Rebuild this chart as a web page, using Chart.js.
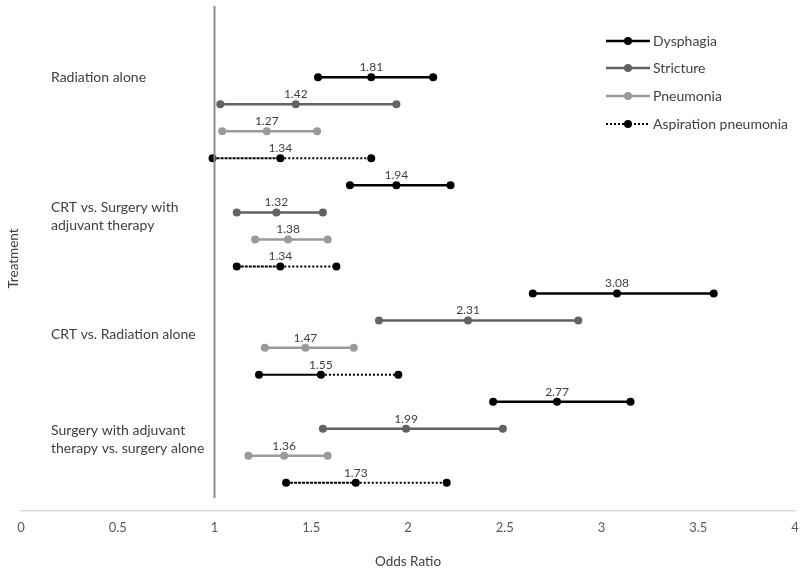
<!DOCTYPE html>
<html><head><meta charset="utf-8">
<script src="https://cdn.jsdelivr.net/npm/chart.js@4/dist/chart.umd.min.js"></script>
<style>html,body{margin:0;padding:0;background:#fff}#wrap{width:800px;height:576px;position:relative}</style>
</head><body><div id="wrap"><canvas id="c"></canvas></div>
<script>
// ---- data ----
const treatments = [
  'Radiation alone',
  ['CRT vs. Surgery with', 'adjuvant therapy'],
  'CRT vs. Radiation alone',
  ['Surgery with adjuvant', 'therapy vs. surgery alone']
];
const treatmentTickPos = [0, 5.15, 9.5, 13.4];
const seriesNames = ['Dysphagia', 'Stricture', 'Pneumonia', 'Aspiration pneumonia'];
const dysphagiaOR  = [1.81, 1.94, 3.08, 2.77];
const dysphagiaLo  = [1.535, 1.70, 2.645, 2.44];
const dysphagiaHi  = [2.13, 2.22, 3.58, 3.15];
const strictureOR  = [1.42, 1.32, 2.31, 1.99];
const strictureLo  = [1.03, 1.115, 1.85, 1.56];
const strictureHi  = [1.94, 1.56, 2.88, 2.49];
const pneumoniaOR  = [1.27, 1.38, 1.47, 1.36];
const pneumoniaLo  = [1.04, 1.21, 1.26, 1.175];
const pneumoniaHi  = [1.53, 1.585, 1.72, 1.585];
const aspirationOR = [1.34, 1.34, 1.55, 1.73];
const aspirationLo = [0.99, 1.115, 1.23, 1.37];
const aspirationHi = [1.81, 1.63, 1.95, 2.20];
const xTicks = [0, 0.5, 1, 1.5, 2, 2.5, 3, 3.5, 4];
const referenceOR = 1;

// ---- build ----
const seriesData = [
  [dysphagiaLo, dysphagiaOR, dysphagiaHi],
  [strictureLo, strictureOR, strictureHi],
  [pneumoniaLo, pneumoniaOR, pneumoniaHi],
  [aspirationLo, aspirationOR, aspirationHi]
];
const colors = ['#000000', '#626262', '#9a9a9a', '#000000'];
const Y_MIN = -2.63, Y_MAX = 16.04, REF_END = 15.56;

const datasets = seriesData.map((s, si) => {
  const data = [];
  for (let g = 0; g < 4; g++) {
    const row = g * 4 + si;
    data.push({x: s[0][g], y: row}, {x: s[1][g], y: row}, {x: s[2][g], y: row}, {x: null, y: row});
  }
  const ds = {
    label: seriesNames[si], data, borderColor: colors[si], backgroundColor: colors[si],
    borderWidth: 2.5, pointRadius: 4, pointHoverRadius: 4, pointBorderWidth: 0,
    showLine: true, spanGaps: false, tension: 0, isSeries: true
  };
  if (si === 3) {
    ds.borderWidth = 2;
    ds.segment = {
      borderDash: ctx => {
        const k = ctx.p0DataIndex % 4;
        if (k === 0) return Math.floor(ctx.p0DataIndex / 4) === 2 ? [] : [3, 1];
        return [2, 2];
      }
    };
  }
  return ds;
});
datasets.unshift({
  label: 'ref', data: [{x: referenceOR, y: Y_MIN}, {x: referenceOR, y: REF_END}],
  borderColor: '#8c8c8c', borderWidth: 2, pointRadius: 0, showLine: true
});

const labelPlugin = {
  id: 'orLabels',
  afterDatasetsDraw(chart) {
    const ctx = chart.ctx;
    ctx.save();
    ctx.font = '12px Lato';
    ctx.fillStyle = '#404040';
    ctx.textAlign = 'center';
    ctx.textBaseline = 'bottom';
    chart.data.datasets.forEach((ds, di) => {
      if (!ds.isSeries) return;
      const meta = chart.getDatasetMeta(di);
      meta.data.forEach((el, i) => {
        if (i % 4 !== 1) return;
        ctx.fillText(ds.data[i].x.toFixed(2), el.x, el.y - 4);
      });
    });
    ctx.restore();
  }
};

const legendPlugin = {
  id: 'customLegend',
  afterDraw(chart) {
    const ctx = chart.ctx;
    ctx.save();
    const x0 = 606, x1 = 650, ys = [41, 68, 96, 124];
    seriesNames.forEach((n, i) => {
      const y = ys[i];
      ctx.strokeStyle = colors[i];
      ctx.lineWidth = i === 3 ? 2 : 2.5;
      ctx.setLineDash(i === 3 ? [2, 2] : []);
      ctx.beginPath(); ctx.moveTo(x0, y); ctx.lineTo(x1, y); ctx.stroke();
      ctx.setLineDash([]);
      ctx.fillStyle = colors[i];
      ctx.beginPath(); ctx.arc((x0 + x1) / 2, y, 4, 0, Math.PI * 2); ctx.fill();
      ctx.fillStyle = '#404040';
      ctx.font = '14px Lato';
      ctx.textAlign = 'left'; ctx.textBaseline = 'middle';
      ctx.fillText(n, x1 + 3, y);
    });
    ctx.restore();
  }
};

new Chart(document.getElementById('c'), {
  type: 'scatter',
  data: {datasets},
  options: {
    responsive: true, maintainAspectRatio: false, animation: false,
    layout: {padding: {top: 6, right: 5, bottom: 0, left: 0}},
    plugins: {legend: {display: false}, tooltip: {enabled: false}},
    scales: {
      x: {
        type: 'linear', min: 0, max: 4,
        afterBuildTicks: s => { s.ticks = xTicks.map(v => ({value: v})); },
        afterFit: s => { s.height = 65; s.paddingLeft = 0; s.paddingRight = 0; },
        grid: {display: false, drawTicks: false},
        border: {display: true, color: '#d9d9d9', width: 1.5},
        ticks: {color: '#595959', font: {family: 'Lato', size: 13}, padding: 9, callback: v => String(v)},
        title: {display: true, text: 'Odds Ratio', color: '#404040', font: {family: 'Lato', size: 13.5}, padding: {top: 20, bottom: 6}}
      },
      y: {
        type: 'linear', reverse: true, min: Y_MIN, max: Y_MAX, position: 'left',
        afterBuildTicks: s => { s.ticks = treatmentTickPos.map(v => ({value: v})); },
        afterFit: s => { s.width = 21; s.paddingTop = 0; s.paddingBottom = 0; },
        grid: {display: false, drawTicks: false},
        border: {display: false},
        ticks: {mirror: true, padding: 30, color: '#404040', font: {family: 'Lato', size: 14, lineHeight: 1.3},
          callback: (v, i) => treatments[i]},
        title: {display: true, text: 'Treatment', color: '#404040', font: {family: 'Lato', size: 13.5}, padding: {top: 6, bottom: 0}}
      }
    }
  },
  plugins: [labelPlugin, legendPlugin]
});
</script>
</body></html>
